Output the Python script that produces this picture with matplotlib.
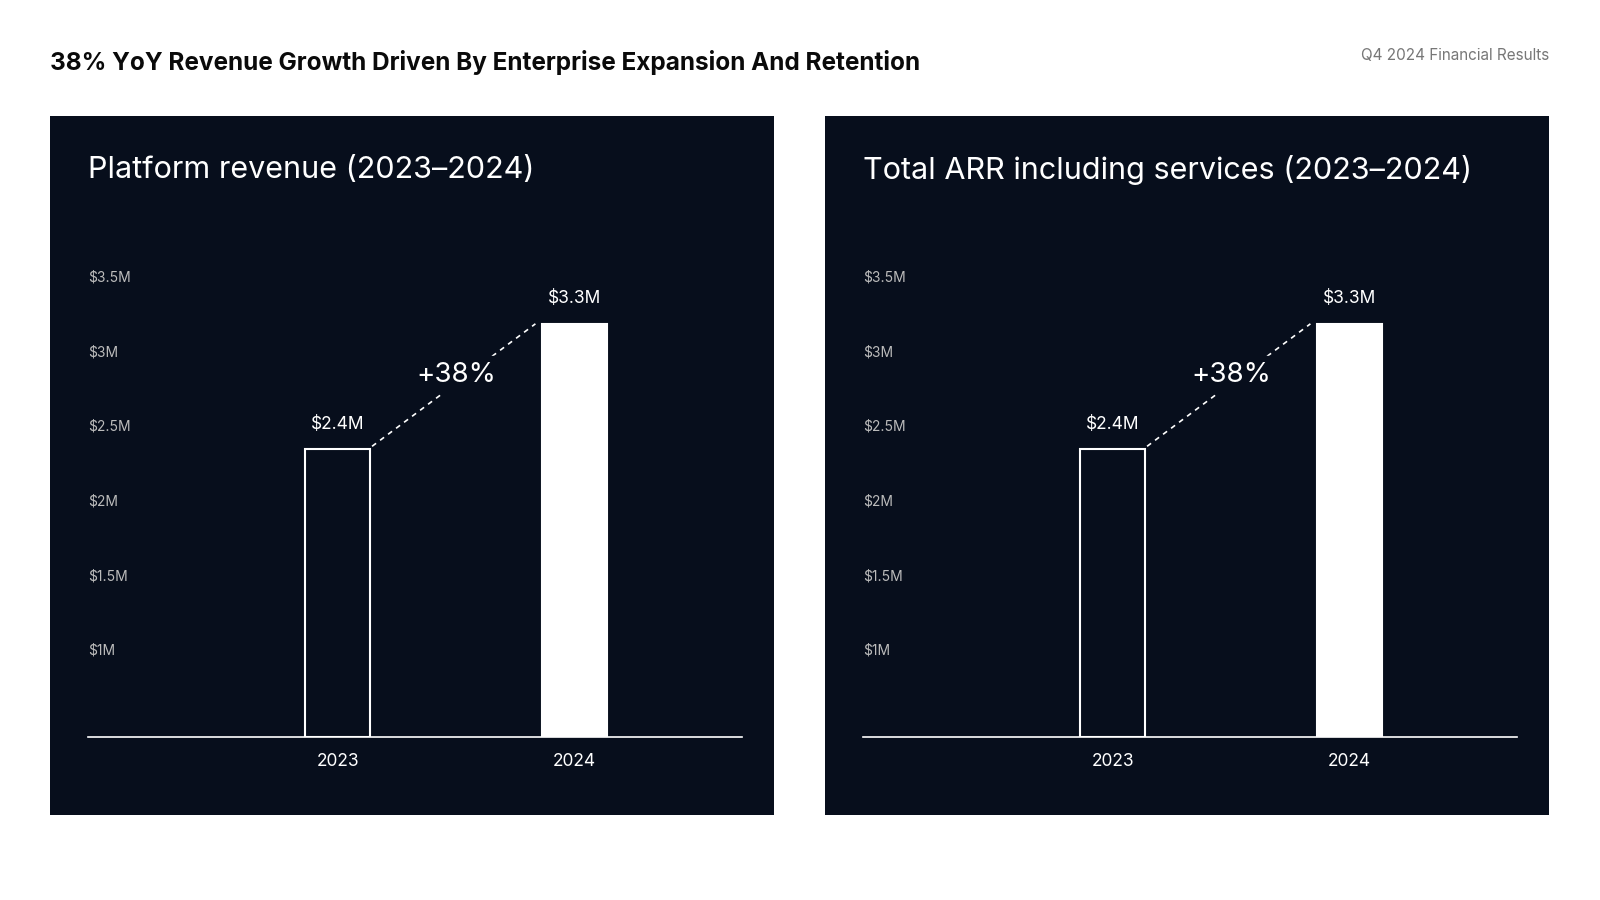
import matplotlib.pyplot as plt

years = ['2023', '2024']
bar_values = [2.35, 3.19]          # $M, as drawn
bar_labels = ['$2.4M', '$3.3M']
growth_label = '+38%'
yticks = [1.0, 1.5, 2.0, 2.5, 3.0, 3.5]
ytick_labels = ['$1M', '$1.5M', '$2M', '$2.5M', '$3M', '$3.5M']
panel_titles = ['Platform revenue (2023\u20132024)', 'Total ARR including services (2023\u20132024)']

W, H = 1568, 882
BG = '#070e1c'
plt.rcParams['font.family'] = ['Inter', 'DejaVu Sans']

fig = plt.figure(figsize=(16, 9), dpi=100)
fig.patch.set_facecolor('white')

def fx(px):
    return px / W

def fy(py):
    return 1 - py / H

fig.text(fx(49), fy(61), '38% YoY Revenue Growth Driven By Enterprise Expansion And Retention',
         fontsize=17.5, fontweight='bold', va='center', ha='left', color='#0a0a0a')
fig.text(fx(1518), fy(54), 'Q4 2024 Financial Results', fontsize=11, va='center', ha='right',
         color='#777777')

for i, title in enumerate(panel_titles):
    off = i * 759.5
    bg = fig.add_axes([fx(49 + off), fy(799), fx(710), (799 - 114) / H])
    bg.set_facecolor(BG)
    bg.set_xticks([])
    bg.set_yticks([])
    for s in bg.spines.values():
        s.set_visible(False)
    fig.text(fx(86 + off), fy(167), title, fontsize=22, color='white', va='center', ha='left')

    ax = fig.add_axes([fx(86 + off), fy(722), fx(727 - 86), (722 - 250) / H])
    ax.patch.set_alpha(0)
    x = [0, 1]
    ymin = 0.426
    ax.set_xlim(-1.056, 1.707)
    ax.set_ylim(ymin, 3.65)
    heights = [v - ymin for v in bar_values]
    ax.bar(x[0], heights[0], bottom=ymin, width=0.276, facecolor=BG, edgecolor='white', linewidth=1.5)
    ax.bar(x[1], heights[1], bottom=ymin, width=0.276, facecolor='white', edgecolor='white', linewidth=1.5)
    for xi, v, lab in zip(x, bar_values, bar_labels):
        ax.text(xi, v + 0.11, lab, color='white', fontsize=12.5, ha='center', va='bottom')
    ax.plot([x[0] + 0.145, x[1] - 0.165], [bar_values[0] + 0.02, bar_values[1]],
            color='white', linestyle=(0, (3, 3)), linewidth=1.2)
    ax.text(0.5, (bar_values[0] + bar_values[1]) / 2 + 0.08, growth_label, color='white',
            fontsize=20, ha='center', va='center', backgroundcolor=BG)

    ax.set_xticks(x)
    ax.set_xticklabels(years, color='white', fontsize=12.5)
    ax.tick_params(axis='x', length=0, pad=12)
    ax.set_yticks([])
    for yv, lab in zip(yticks, ytick_labels):
        ax.text(0, yv, lab, transform=ax.get_yaxis_transform(), color='#bbbbbb',
                fontsize=10, ha='left', va='center')
    for side in ['top', 'right', 'left']:
        ax.spines[side].set_visible(False)
    ax.spines['bottom'].set_color('white')
    ax.spines['bottom'].set_linewidth(1.2)

plt.savefig('out.png', dpi=100, facecolor='white')
